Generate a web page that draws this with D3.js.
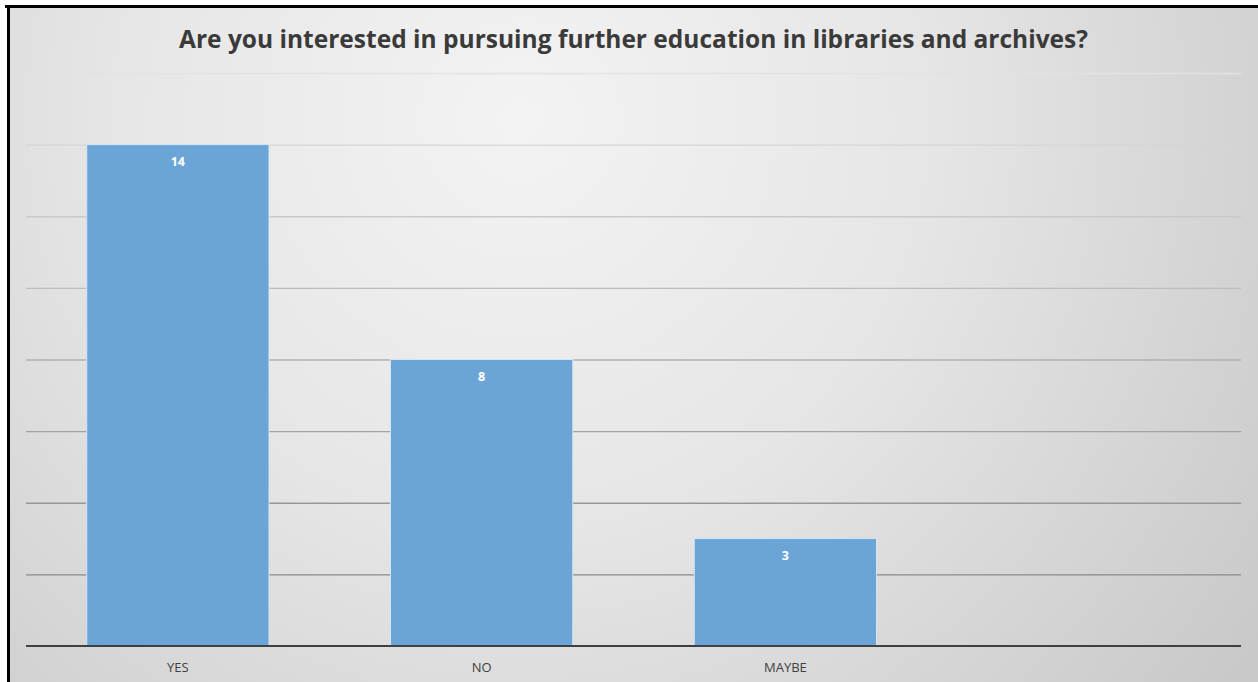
<!DOCTYPE html>
<html>
<head>
<meta charset="utf-8">
<script src="https://cdn.jsdelivr.net/npm/d3@7"></script>
<style>
  html, body { margin: 0; padding: 0; background: #ffffff; }
  svg { display: block; }
</style>
</head>
<body>
<svg id="chart" width="1258" height="682"></svg>
<script>
// ---- data ----
const titleText = "Are you interested in pursuing further education in libraries and archives?";
const categories = ["YES", "NO", "MAYBE", ""];
const values = [14, 8, 3, null];
const yTicks = [0, 2, 4, 6, 8, 10, 12, 14, 16];

// ---- layout ----
const W = 1258, H = 682;
const plot = { left: 26, right: 1241, top: 73, bottom: 646 };

const svg = d3.select("#chart");
const defs = svg.append("defs");

const bg = defs.append("radialGradient")
  .attr("id", "bg").attr("gradientUnits", "userSpaceOnUse")
  .attr("cx", 520).attr("cy", 120).attr("r", 900)
  .attr("fx", 520).attr("fy", 120);
bg.append("stop").attr("offset", "0%").attr("stop-color", "#f3f3f3");
bg.append("stop").attr("offset", "45%").attr("stop-color", "#e6e6e6");
bg.append("stop").attr("offset", "100%").attr("stop-color", "#c9c9c9");

// frame background
svg.append("rect").attr("x", 8).attr("y", 7).attr("width", W - 8).attr("height", H - 7)
  .attr("fill", "url(#bg)");
// black frame lines (top & left)
svg.append("rect").attr("x", 5).attr("y", 5).attr("width", W - 5).attr("height", 3).attr("fill", "#000");
svg.append("rect").attr("x", 7).attr("y", 5).attr("width", 3).attr("height", H - 5).attr("fill", "#000");

const x = d3.scaleBand().domain(categories)
  .range([plot.left, plot.right]).paddingInner(0.4).paddingOuter(0.2);
const y = d3.scaleLinear().domain([0, 16]).range([plot.bottom, plot.top]);

// gridlines (fade from light at top to darker at bottom)
const gridColor = d3.scaleLinear().domain([16, 2]).range(["#e2e2e2", "#8a8a8a"]);
const grid = svg.append("g")
  .attr("transform", `translate(${plot.left},0)`)
  .call(d3.axisLeft(y).tickValues(yTicks.filter(t => t > 0)).tickSize(-(plot.right - plot.left)).tickFormat(""));
grid.select(".domain").remove();
grid.selectAll(".tick line")
  .attr("stroke", d => gridColor(d))
  .attr("stroke-width", 1.3);

// bars
const data = categories.map((c, i) => ({ c, v: values[i] })).filter(d => d.v != null);
svg.append("g").selectAll("rect").data(data).join("rect")
  .attr("x", d => x(d.c))
  .attr("y", d => y(d.v))
  .attr("width", x.bandwidth())
  .attr("height", d => y(0) - y(d.v))
  .attr("fill", "#6ba4d7")
  .attr("stroke", "#d6e4f2")
  .attr("stroke-width", 1);

// value labels
svg.append("g").selectAll("text").data(data).join("text")
  .attr("x", d => x(d.c) + x.bandwidth() / 2)
  .attr("y", d => y(d.v) + 21)
  .attr("text-anchor", "middle")
  .attr("font-family", "'Open Sans', sans-serif")
  .attr("font-weight", "bold")
  .attr("font-size", 12.5)
  .attr("fill", "#ffffff")
  .text(d => d.v);

// x axis
const xAxis = svg.append("g")
  .attr("transform", `translate(0,${plot.bottom})`)
  .call(d3.axisBottom(x).tickSize(0).tickPadding(17));
xAxis.select(".domain").attr("stroke", "#404040").attr("stroke-width", 2)
  .attr("d", `M${plot.left},0H${plot.right}`);
xAxis.selectAll("text")
  .attr("font-family", "'Open Sans', sans-serif")
  .attr("font-size", 13)
  .attr("fill", "#404040");

// title
svg.append("text")
  .attr("x", (plot.left + plot.right) / 2)
  .attr("y", 48)
  .attr("text-anchor", "middle")
  .attr("font-family", "'Open Sans', sans-serif")
  .attr("font-weight", "bold")
  .attr("font-size", 25)
  .attr("fill", "#3a3a3a")
  .attr("textLength", 909)
  .attr("lengthAdjust", "spacingAndGlyphs")
  .text(titleText);
</script>
</body>
</html>
